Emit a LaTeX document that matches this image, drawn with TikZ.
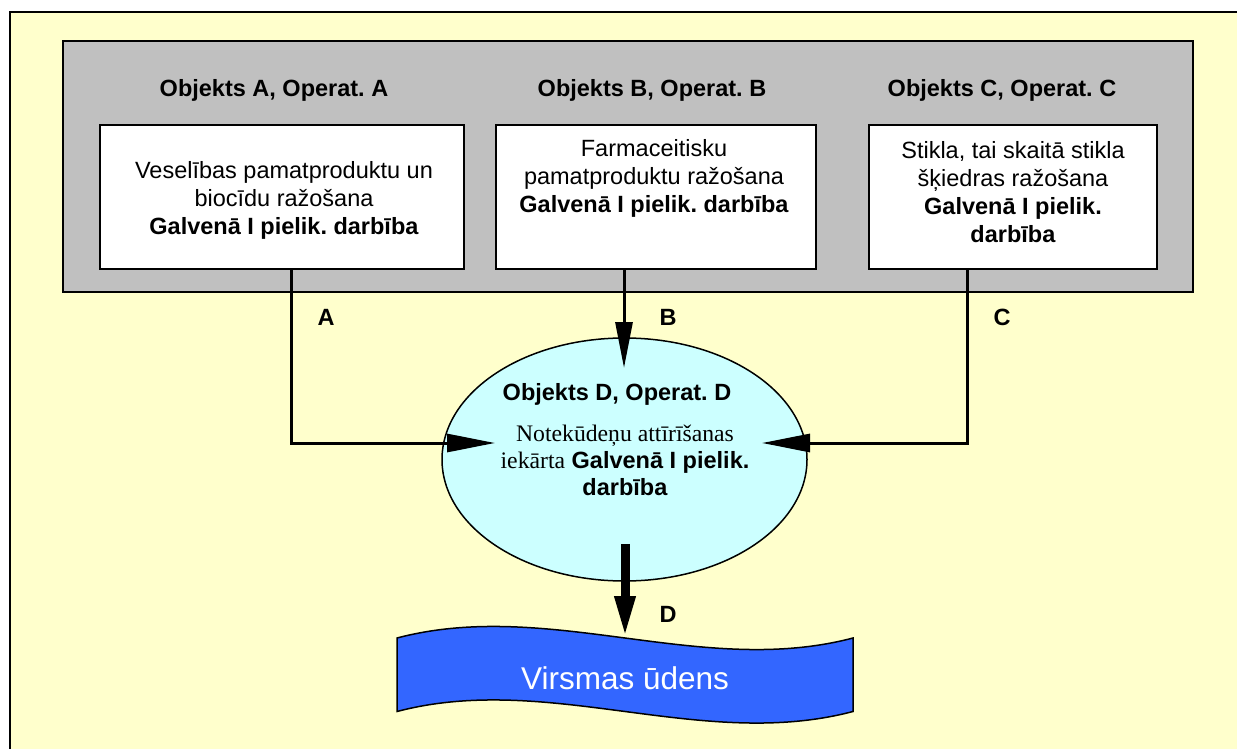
\documentclass[tikz,border=0pt]{standalone}
\usepackage{fontspec}
\setmainfont{Liberation Sans}
\newfontfamily\tmsfont{Liberation Serif}
\usetikzlibrary{arrows.meta,shapes.geometric,calc}
\definecolor{bgyellow}{HTML}{FFFFCC}
\definecolor{grpgray}{HTML}{C0C0C0}
\definecolor{ellcyan}{HTML}{CCFFFF}
\definecolor{wavblue}{HTML}{3366FF}
\frenchspacing
\tikzset{
  grpbox/.style={draw=black, line width=1.8pt, fill=grpgray, inner sep=0pt},
  actbox/.style={draw=black, line width=1.6pt, fill=white, inner sep=0pt, minimum height=144pt},
  ttl/.style={font=\fontsize{23.5}{28}\selectfont\bfseries, inner sep=0pt},
  body/.style={font=\fontsize{23.5}{28}\selectfont, align=center, inner sep=0pt},
  lbl/.style={font=\fontsize{23.5}{28}\selectfont\bfseries, inner sep=0pt},
  conn/.style={line width=3pt, -{Triangle[length=48pt,width=18pt]}},
  connb/.style={line width=3pt, -{Triangle[length=46pt,width=17pt]}},
  darrow/.style={line width=9pt, -{Triangle[length=42pt,width=19pt]}},
  ellbox/.style={ellipse, draw=black, line width=1.5pt, fill=ellcyan, inner sep=0pt,
    minimum width=365pt, minimum height=243pt},
}
\begin{document}
\begin{tikzpicture}[x=1pt,y=-1pt]
\useasboundingbox (0,0) rectangle (1237,749);
\fill[white] (0,0) rectangle (1237,749);
\fill[bgyellow] (9.5,12) rectangle (1237,749);
\draw[line width=2pt] (9.5,749) -- (9.5,12) -- (1237,12);

% group of three installations
\node[grpbox, minimum width=1130pt, minimum height=251pt] (grp) at (628,166.5) {};
\node[ttl] (ttlA) at (274,90) {Objekts A, Operat. A};
\node[ttl] (ttlB) at (652,90) {Objekts B, Operat. B};
\node[ttl] (ttlC) at (1002,90) {Objekts C, Operat. C};

\node[actbox, minimum width=364pt] (boxA) at (282,197) {};
\node[actbox, minimum width=320pt] (boxB) at (656,197) {};
\node[actbox, minimum width=288pt] (boxC) at (1013,197) {};

\node[body] (tA) at (284,200) {Veselības pamatproduktu un\\biocīdu ražošana\\\textbf{Galvenā I pielik. darbība}};
\node[body] (tB) at (654,178) {Farmaceitisku\\pamatproduktu ražošana\\\textbf{Galvenā I pielik. darbība}};
\node[body] (tC) at (1013,192) {Stikla, tai skaitā stikla\\šķiedras ražošana\\\textbf{Galvenā I pielik.}\\\textbf{darbība}};

% treatment plant
\node[ellbox] (D) at (624.5,459.5) {};
\node[ttl] (ttlD) at (617,394) {Objekts D, Operat. D};
\node[align=center, inner sep=0pt, font=\fontsize{23.7}{27}\selectfont] (tD) at (625,460)
  {{\tmsfont Notekūdeņu attīrīšanas}\\{\tmsfont iekārta} \textbf{\fontsize{23.5}{27}\selectfont Galvenā I pielik.}\\\textbf{\fontsize{23.5}{27}\selectfont darbība}};

% surface water (wave)
\draw[line width=1.5pt, fill=wavblue]
  (397,638) .. controls (549,598) and (701,678) .. (853,638)
  -- (853,711.5) .. controls (701,751.5) and (549,671.5) .. (397,711.5) -- cycle;
\node[inner sep=0pt, text=white, font=\fontsize{31.5}{36}\selectfont] (W) at (625,678) {Virsmas ūdens};
\coordinate (wtop) at (625,638);

% connectors
\coordinate (tipA) at (495,443);
\coordinate (tipB) at (624,368);
\coordinate (tipC) at (762,443);
\draw[conn] ($(boxA.south)+(9,0)$) |- (tipA);
\draw[connb] (boxB.south -| tipB) -- (tipB);
\draw[conn] ($(boxC.south)+(-46,0)$) |- (tipC);
\draw[darrow] ($(D.south)+(0.5,-38)$) -- (wtop);

\node[lbl] (lA) at (326,317) {A};
\node[lbl] (lB) at (668,317) {B};
\node[lbl] (lC) at (1002,317) {C};
\node[lbl] (lD) at (668,614) {D};
\end{tikzpicture}
\end{document}
